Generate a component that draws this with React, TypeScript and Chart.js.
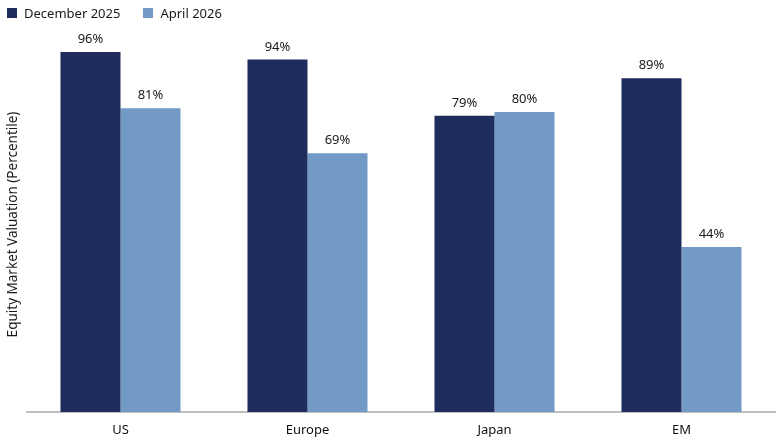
import { useEffect, useRef } from "react"
import { Chart, registerables } from "chart.js"

Chart.register(...registerables)

const regions = ["US", "Europe", "Japan", "EM"]
const december2025 = [96, 94, 79, 89]
const april2026 = [81, 69, 80, 44]
const seriesNames = ["December 2025", "April 2026"]
const seriesColors = ["#1F2D5E", "#7399C6"]

const FONT = "'Noto Sans', 'Open Sans', sans-serif"

// draws the % values above each bar
const valueLabels = {
  id: "valueLabels",
  afterDatasetsDraw(chart: Chart) {
    const ctx = chart.ctx
    ctx.save()
    ctx.font = `13px ${FONT}`
    ctx.fillStyle = "#1a1a1a"
    ctx.textAlign = "center"
    ctx.textBaseline = "alphabetic"
    chart.data.datasets.forEach((ds, i) => {
      const meta = chart.getDatasetMeta(i)
      meta.data.forEach((bar: any, j: number) => {
        ctx.fillText(`${ds.data[j]}%`, bar.x, bar.y - 9)
      })
    })
    ctx.restore()
  },
}

export default function App() {
  const chartRef = useRef<HTMLCanvasElement>(null)

  useEffect(() => {
    if (!chartRef.current) return
    const chart = new Chart(chartRef.current, {
      type: "bar",
      data: {
        labels: regions,
        datasets: [
          { label: seriesNames[0], data: december2025, backgroundColor: seriesColors[0] },
          { label: seriesNames[1], data: april2026, backgroundColor: seriesColors[1] },
        ],
      },
      options: {
        animation: false,
        responsive: true,
        maintainAspectRatio: false,
        layout: { padding: { top: 37, right: 5, bottom: 0, left: 0 } },
        datasets: { bar: { categoryPercentage: 0.642, barPercentage: 1 } },
        scales: {
          x: {
            grid: { display: false, drawTicks: false },
            border: { color: "#BFBFBF", width: 2 },
            ticks: { color: "#111", font: { family: FONT, size: 13 }, padding: 10 },
            afterFit(scale: any) {
              scale.height = 28
            },
          },
          y: {
            min: 0,
            max: 100,
            grid: { display: false, drawTicks: false },
            border: { display: false },
            ticks: { display: false },
            title: {
              display: true,
              text: "Equity Market Valuation (Percentile)",
              color: "#1a1a1a",
              font: { family: FONT, size: 13.5 },
              padding: { top: 5, bottom: 0 },
            },
            afterFit(scale: any) {
              scale.width = 27
            },
          },
        },
        plugins: {
          legend: { display: false },
          tooltip: { enabled: false },
        },
      },
      plugins: [valueLabels],
    })
    return () => chart.destroy()
  }, [])

  return (
    <div style={{ position: "fixed", left: 0, top: 0, width: 780, height: 440, background: "#fff" }}>
      <canvas ref={chartRef} />
      <div
        style={{
          position: "absolute",
          left: 7,
          top: 4,
          display: "flex",
          gap: 23,
          fontFamily: FONT,
          fontSize: 13,
          color: "#1a1a1a",
          lineHeight: "18px",
        }}
      >
        {seriesNames.map((name, i) => (
          <div key={name} style={{ display: "flex", alignItems: "center", gap: 7 }}>
            <span style={{ display: "inline-block", width: 10, height: 10, background: seriesColors[i] }} />
            <span>{name}</span>
          </div>
        ))}
      </div>
    </div>
  )
}
